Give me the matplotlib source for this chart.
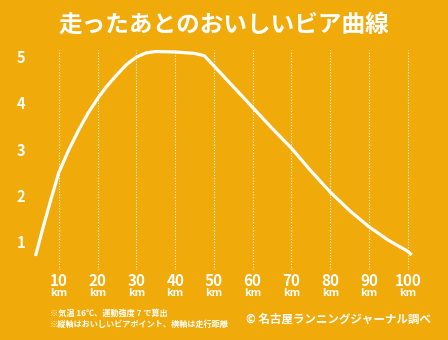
import matplotlib
matplotlib.use("Agg")
import matplotlib.pyplot as plt

plt.rcParams["font.family"] = ["Noto Sans CJK JP", "DejaVu Sans"]

BG = "#F0AA0A"

# distance (km) and "tasty beer point"
distance_km = [4, 6, 8, 10, 12.5, 15, 17.5, 20, 22.5, 25, 27.5, 30, 32.5, 35,
               40, 45, 47.5, 50, 55, 60, 65, 70, 75, 80, 85, 90, 95, 100, 101]
beer_point = [0.72, 1.35, 1.95, 2.52, 3.0, 3.42, 3.8, 4.12, 4.4, 4.64, 4.86, 5.02, 5.11, 5.14,
              5.13, 5.1, 5.05, 4.83, 4.38, 3.93, 3.48, 3.05, 2.56, 2.1, 1.7, 1.35, 1.06, 0.82, 0.74]

x_ticks = [10, 20, 30, 40, 50, 60, 70, 80, 90, 100]
y_ticks = [1, 2, 3, 4, 5]

title = "走ったあとのおいしいビア曲線"
notes = ["※気温 16℃、運動強度 7 で算出", "※縦軸はおいしいビアポイント、横軸は走行距離"]
credit = "© 名古屋ランニングジャーナル調べ"

fig = plt.figure(figsize=(4.48, 3.40), dpi=100, facecolor=BG)
W, H = 448, 340
left, right, top, bottom = 20, 420, 50, 270
ax = fig.add_axes([left / W, 1 - bottom / H, (right - left) / W, (bottom - top) / H])
ax.set_facecolor(BG)
ax.set_xlim(0, (right - left) / 3.878)
ax.set_ylim(1 - (bottom - 243) / 46.25, 5 + (58 - top) / 46.25)

for x in x_ticks:
    ax.axvline(x, color="white", lw=0.8, ls=(0, (1, 1.5)), alpha=0.9)

ax.plot(distance_km, beer_point, color="white", lw=2.3, solid_capstyle="butt",
        solid_joinstyle="round", clip_on=False)

for s in ax.spines.values():
    s.set_visible(False)
ax.set_xticks([])
ax.set_yticks([])

for y in y_ticks:
    ax.text(0.2, y, str(y), color="white", fontsize=10.5, fontweight="bold",
            ha="center", va="center", clip_on=False)

for x in x_ticks:
    ax.annotate(str(x), (x, 0), xycoords=("data", "axes fraction"), xytext=(0, -11),
                textcoords="offset pixels", color="white", fontsize=11,
                fontweight="bold", ha="center", va="center")
    ax.annotate("km", (x, 0), xycoords=("data", "axes fraction"), xytext=(0, -23),
                textcoords="offset pixels", color="white", fontsize=7.8,
                fontweight="bold", ha="center", va="center")

fig.text(0.5, 1 - 25 / H, title, color="white", fontsize=17, fontweight="bold",
         ha="center", va="center")
fig.text(50 / W, 1 - 313 / H, notes[0], color="white", fontsize=5.9, fontweight="bold",
         ha="left", va="center")
fig.text(50 / W, 1 - 324 / H, notes[1], color="white", fontsize=5.9, fontweight="bold",
         ha="left", va="center")
fig.text(246 / W, 1 - 319 / H, credit, color="white", fontsize=8.3, fontweight="bold",
         ha="left", va="center")

fig.savefig("out.png", dpi=100, facecolor=BG)
